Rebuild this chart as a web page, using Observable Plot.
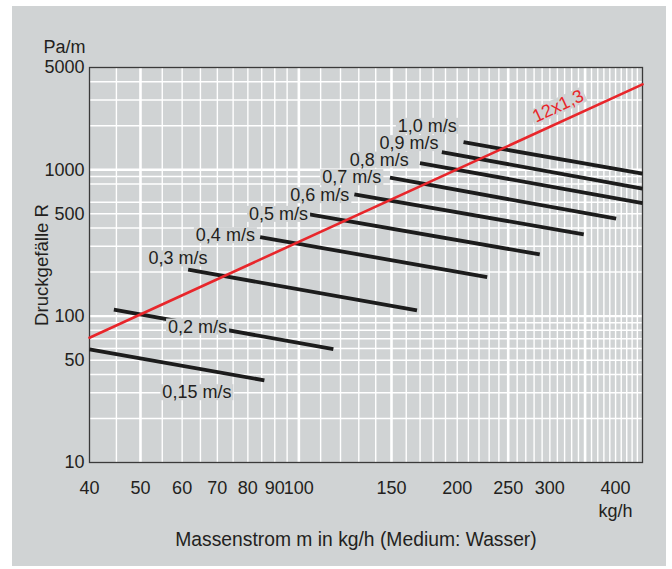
<!DOCTYPE html>
<html><head><meta charset="utf-8">
<script src="https://cdn.jsdelivr.net/npm/d3@7"></script>
<script src="https://cdn.jsdelivr.net/npm/@observablehq/plot@0.6"></script>
<style>
html,body{margin:0;padding:0;background:#fff;}
#wrap{position:relative;width:672px;height:569px;overflow:hidden;}
#bg{position:absolute;left:12px;top:6px;width:654px;height:560px;background:#d0d3d4;}
#chart{position:absolute;left:0;top:0;}
</style></head><body>
<div id="wrap"><div id="bg"></div><div id="chart"></div></div>
<script>
// velocity lines (Pa/m vs kg/h)
const velocities = ["0,15 m/s","0,2 m/s","0,3 m/s","0,4 m/s","0,5 m/s","0,6 m/s","0,7 m/s","0,8 m/s","0,9 m/s","1,0 m/s"];
const xStart = [40, 44.5, 61.6, 84.4, 104.7, 127.5, 149, 169.9, 187, 205.6];
const yStart = [59.2, 110.6, 207.6, 347, 496, 679, 883, 1111, 1321, 1546];
const xEnd   = [86, 116.3, 167.7, 228, 287, 348, 401, 450, 450, 450];
const yEnd   = [36.4, 59.5, 109.4, 185, 264, 362, 463, 592, 743, 940];
const labelX = [64, 64.2, 58.9, 72.5, 91.5, 109.6, 126.1, 142.2, 161.9, 175.5];
const labelY = [30.1, 84.6, 247, 356, 498, 668, 887, 1169, 1516, 1990];

// pipe line 12x1,3
const pipeName = "12x1,3";
const pipeX = [40, 450];
const pipeY = [71.2, 3835];
const pipeLabelX = [311];
const pipeLabelY = [2720];

// axes
const xTicks = [40, 50, 60, 70, 80, 90, 100, 150, 200, 250, 300, 400];
const yTicks = [10, 50, 100, 500, 1000, 5000];
const xGrid = [45,50,55,60,65,70,75,80,85,90,95,100,110,120,130,140,150,160,170,180,190,200,210,220,230,240,250,260,270,280,290,300,310,320,330,340,350,360,370,380,390,400,410,420,430,440];
const xGridMajor = [50, 100, 150, 250, 350];
const yGrid = [20,30,40,50,60,70,80,90,100,200,300,400,500,600,800,900,1000,2000,3000,4000];
const yGridMajor = [100, 1000];

const GRAY = "#d0d3d4";
const INK = "#231f20";
const FONT = "'Liberation Sans', Arial, Helvetica, sans-serif";

const lines = velocities.map((v, i) => ({v, x1: xStart[i], y1: yStart[i], x2: xEnd[i], y2: yEnd[i], lx: labelX[i], ly: labelY[i]}));
const pipe = pipeX.map((x, i) => ({x, y: pipeY[i]}));

const chart = Plot.plot({
  width: 672, height: 569,
  marginLeft: 89, marginRight: 30, marginTop: 67, marginBottom: 107,
  style: {fontFamily: FONT, fontSize: "18px", color: INK, background: "transparent", overflow: "visible"},
  x: {type: "log", domain: [40, 450], axis: null},
  y: {type: "log", domain: [10, 5000], axis: null},
  marks: [
    Plot.ruleX(xGrid, {x: d => d, stroke: "#fff", strokeWidth: d => xGridMajor.includes(d) ? 2.6 : 1.4}),
    Plot.ruleY(yGrid, {y: d => d, stroke: "#fff", strokeWidth: d => yGridMajor.includes(d) ? 2.4 : 1.5}),
    Plot.frame({stroke: "#3a3a3a", strokeWidth: 1.3}),
    // tick labels
    Plot.text(xTicks, {x: d => d, text: d => String(d), frameAnchor: "bottom", dy: 26, textAnchor: "middle", lineAnchor: "middle", fontSize: 18, fill: INK}),
    Plot.text(yTicks, {y: d => d, text: d => String(d), frameAnchor: "left", dx: -5, textAnchor: "end", lineAnchor: "middle", fontSize: 18, fill: INK}),
    Plot.link(lines, {x1: "x1", y1: "y1", x2: "x2", y2: "y2", stroke: "#1c1c1c", strokeWidth: 3.8}),
    Plot.line(pipe, {x: "x", y: "y", stroke: "#e8262b", strokeWidth: 2.6}),
    Plot.text(lines, {x: "lx", y: "ly", text: "v", fontSize: 18, fill: INK, textAnchor: "middle", lineAnchor: "middle", ariaDescription: "boxed"}),
    Plot.text([pipeName], {x: pipeLabelX, y: pipeLabelY, text: d => d, rotate: -25, fontSize: 18, fill: "#e8262b", textAnchor: "middle", lineAnchor: "middle", ariaDescription: "boxed"}),
    Plot.text(["Pa/m"], {frameAnchor: "top-left", dx: -46, dy: -20, textAnchor: "start", lineAnchor: "middle", fontSize: 18, fill: INK}),
    Plot.text(["Druckgefälle R"], {frameAnchor: "left", dx: -47.5, rotate: -90, textAnchor: "middle", lineAnchor: "middle", fontSize: 18.6, fill: INK}),
    Plot.text(["kg/h"], {x: [400], frameAnchor: "bottom", dy: 48.5, textAnchor: "middle", lineAnchor: "middle", fontSize: 18, fill: INK}),
    Plot.text(["Massenstrom m in kg/h (Medium: Wasser)"], {frameAnchor: "bottom", dx: -10, dy: 77, textAnchor: "middle", lineAnchor: "middle", fontSize: 19.3, fill: INK})
  ]
});

document.getElementById("chart").append(chart);

// gray boxes behind the curve labels
const NS = "http://www.w3.org/2000/svg";
chart.querySelectorAll('g[aria-description="boxed"] text').forEach(t => {
  const b = t.getBBox();
  const r = document.createElementNS(NS, "rect");
  r.setAttribute("x", b.x - 2);
  r.setAttribute("y", b.y + 2);
  r.setAttribute("width", b.width + 4);
  r.setAttribute("height", b.height - 4);
  r.setAttribute("fill", GRAY);
  r.setAttribute("stroke", "none");
  const tr = t.getAttribute("transform");
  if (tr) r.setAttribute("transform", tr);
  t.parentNode.insertBefore(r, t);
});
</script>
</body></html>
